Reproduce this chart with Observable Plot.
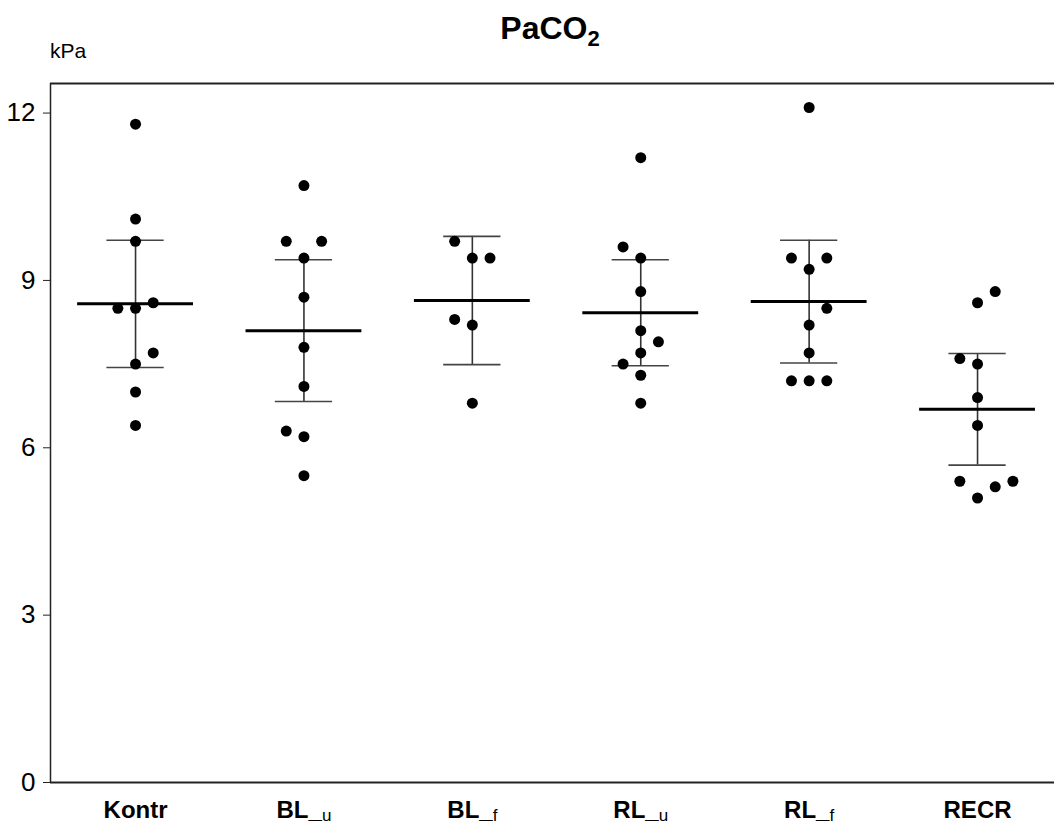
<!DOCTYPE html>
<html>
<head>
<meta charset="utf-8">
<script src="https://cdn.jsdelivr.net/npm/d3@7"></script>
<script src="https://cdn.jsdelivr.net/npm/@observablehq/plot@0.6"></script>
<style>
  html, body { margin: 0; padding: 0; background: #fff; }
  #wrap { position: relative; width: 1054px; height: 827px; font-family: "Liberation Sans", Arial, sans-serif; }
  #title { position: absolute; left: 0; width: 1100px; top: 12px; text-align: center; font-size: 32px; line-height: 32px; font-weight: bold; color: #000; }
  #title sub { font-size: 22px; vertical-align: -7px; line-height: 0; }
  #unit { position: absolute; left: 50px; top: 40px; font-size: 21px; line-height: 21px; color: #000; }
</style>
</head>
<body>
<div id="wrap">
  <div id="chart"></div>
  <div id="title">PaCO<sub>2</sub></div>
  <div id="unit">kPa</div>
</div>
<script>
// Categories
const groups = ["Kontr", "BL_u", "BL_f", "RL_u", "RL_f", "RECR"];

// Individual values (kPa) and their horizontal jitter slot
const kontr     = [11.8, 10.1, 9.7, 8.6, 8.5, 8.5, 7.7, 7.5, 7.0, 6.4];
const kontrSlot = [0, 0, 0, 1, -1, 0, 1, 0, 0, 0];
const blU       = [10.7, 9.7, 9.7, 9.4, 8.7, 7.8, 7.1, 6.3, 6.2, 5.5];
const blUSlot   = [0, -1, 1, 0, 0, 0, 0, -1, 0, 0];
const blF       = [9.7, 9.4, 9.4, 8.3, 8.2, 6.8];
const blFSlot   = [-1, 0, 1, -1, 0, 0];
const rlU       = [11.2, 9.6, 9.4, 8.8, 8.1, 7.9, 7.7, 7.5, 7.3, 6.8];
const rlUSlot   = [0, -1, 0, 0, 0, 1, 0, -1, 0, 0];
const rlF       = [12.1, 9.4, 9.4, 9.2, 8.5, 8.2, 7.7, 7.2, 7.2, 7.2];
const rlFSlot   = [0, -1, 1, 0, 1, 0, 0, -1, 0, 1];
const recr      = [8.8, 8.6, 7.6, 7.5, 6.9, 6.4, 5.4, 5.4, 5.3, 5.1];
const recrSlot  = [1, 0, -1, 0, 0, 0, -1, 2, 1, 0];

// Group mean and error bar half-length
const means = [8.58, 8.10, 8.64, 8.42, 8.62, 6.69];
const errs  = [1.14, 1.27, 1.15, 0.95, 1.10, 1.00];

// Y axis ticks
const yTicks = [0, 3, 6, 9, 12];

const seriesVals  = [kontr, blU, blF, rlU, rlF, recr];
const seriesSlots = [kontrSlot, blUSlot, blFSlot, rlUSlot, rlFSlot, recrSlot];

const JIT = 0.105, MEANW = 0.344, CAPW = 0.17;
const points = [];
seriesVals.forEach((vals, gi) => vals.forEach((v, k) => points.push({x: gi + seriesSlots[gi][k] * JIT, y: v})));
const stats = groups.map((g, i) => ({i, mean: means[i], lo: means[i] - errs[i], hi: means[i] + errs[i]}));

const X0 = -0.505, X1 = 5.457, YMAX = 12.53;

const chart = Plot.plot({
  width: 1054, height: 827,
  marginLeft: 50, marginRight: 0, marginTop: 83, marginBottom: 45,
  x: {type: "linear", domain: [X0, X1], axis: null},
  y: {domain: [0, YMAX], axis: null},
  style: {fontFamily: "'Liberation Sans', Arial, sans-serif", color: "#000", background: "#fff"},
  marks: [
    Plot.ruleY([YMAX], {stroke: "#222", strokeWidth: 2}),
    Plot.ruleY([0], {stroke: "#222", strokeWidth: 2}),
    Plot.ruleX([X0], {stroke: "#222", strokeWidth: 1.5}),
    Plot.axisY({ticks: yTicks, tickSize: 7, tickPadding: 8, fontSize: 26, label: null, tickFormat: d => String(d), stroke: "#222"}),
    Plot.axisX({ticks: d3.range(groups.length), tickFormat: i => groups[i], tickSize: 0, tickPadding: 18, fontSize: 24, fontWeight: "bold", label: null}),
    // vertical stems
    Plot.ruleX(stats, {x: "i", y1: "lo", y2: "hi", stroke: "#333", strokeWidth: 1.6}),
    // caps
    Plot.ruleY(stats, {y: "hi", x1: d => d.i - CAPW, x2: d => d.i + CAPW, stroke: "#444", strokeWidth: 1.6}),
    Plot.ruleY(stats, {y: "lo", x1: d => d.i - CAPW, x2: d => d.i + CAPW, stroke: "#444", strokeWidth: 1.6}),
    // mean lines
    Plot.ruleY(stats, {y: "mean", x1: d => d.i - MEANW, x2: d => d.i + MEANW, stroke: "#000", strokeWidth: 3}),
    // points
    Plot.dot(points, {x: "x", y: "y", r: 5.5, fill: "#000", stroke: "none"})
  ]
});
document.getElementById("chart").appendChild(chart);

// y tick labels in a narrow face, x labels bold with subscripts
chart.querySelectorAll('[aria-label="y-axis tick label"] text').forEach(t => {
  t.style.fontFamily = "'Liberation Sans Narrow', 'Liberation Sans', Arial, sans-serif";
});
chart.querySelectorAll('[aria-label="x-axis tick label"]').forEach(g => g.setAttribute("font-weight", "bold"));
chart.querySelectorAll('[aria-label="x-axis tick label"] text').forEach(t => {
  const s = t.textContent;
  const k = s.indexOf("_");
  if (k >= 0) {
    t.textContent = s.slice(0, k + 1);
    const ts = document.createElementNS("http://www.w3.org/2000/svg", "tspan");
    ts.setAttribute("font-size", "17");
    ts.setAttribute("font-weight", "normal");
    ts.setAttribute("dy", "3");
    ts.textContent = s.slice(k + 1);
    t.appendChild(ts);
  }
});
</script>
</body>
</html>
